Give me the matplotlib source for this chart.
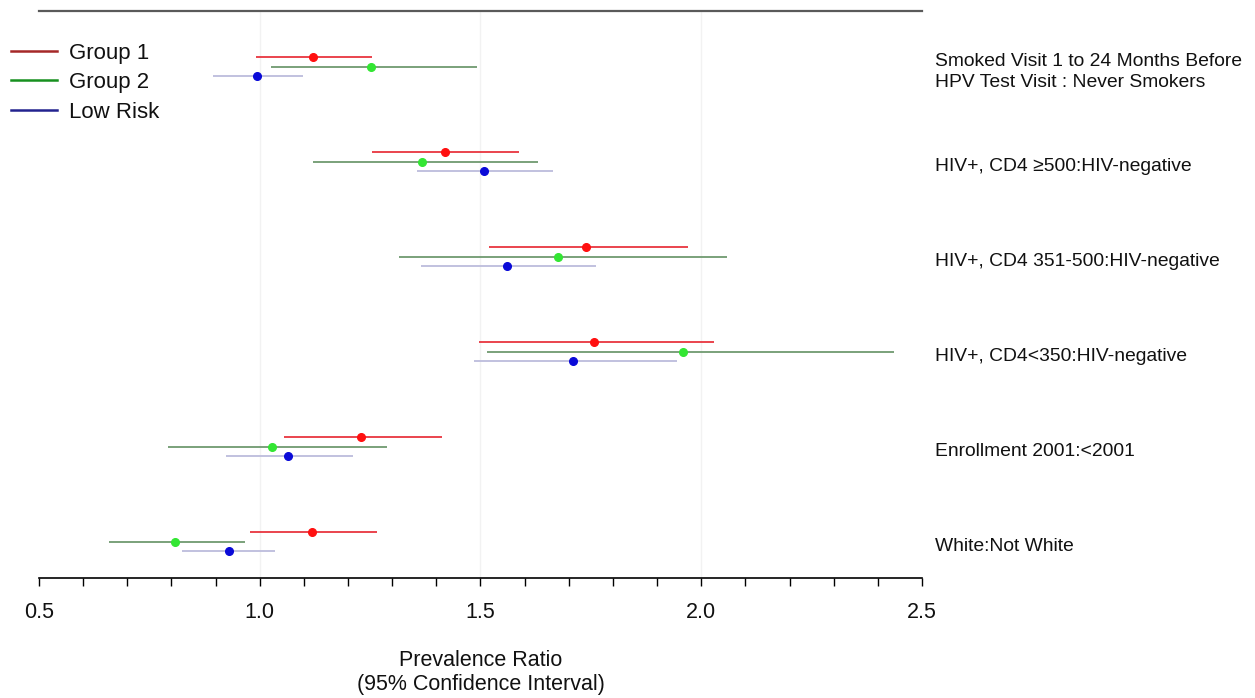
import matplotlib
matplotlib.use('Agg')
import matplotlib.pyplot as plt
from matplotlib.lines import Line2D
from matplotlib.ticker import MultipleLocator

plt.rcParams['font.family'] = ['Liberation Sans', 'DejaVu Sans']

# row labels, top to bottom
labels = [
    'Smoked Visit 1 to 24 Months Before\nHPV Test Visit : Never Smokers',
    'HIV+, CD4 \u2265500:HIV-negative',
    'HIV+, CD4 351-500:HIV-negative',
    'HIV+, CD4<350:HIV-negative',
    'Enrollment 2001:<2001',
    'White:Not White',
]

# prevalence ratio estimates and 95% CI bounds per group
g1_est = [1.121, 1.419, 1.740, 1.757, 1.230, 1.119]
g1_lo = [0.991, 1.255, 1.519, 1.497, 1.056, 0.979]
g1_hi = [1.254, 1.588, 1.969, 2.029, 1.412, 1.265]

g2_est = [1.251, 1.367, 1.675, 1.958, 1.028, 0.807]
g2_lo = [1.025, 1.120, 1.316, 1.515, 0.792, 0.659]
g2_hi = [1.492, 1.631, 2.058, 2.437, 1.288, 0.967]

lr_est = [0.993, 1.508, 1.560, 1.709, 1.064, 0.931]
lr_lo = [0.893, 1.357, 1.365, 1.486, 0.924, 0.825]
lr_hi = [1.099, 1.665, 1.762, 1.944, 1.212, 1.035]

groups = [
    ('Group 1', g1_est, g1_lo, g1_hi, 0.1, '#e8353f', '#ff1010', '#a52828'),
    ('Group 2', g2_est, g2_lo, g2_hi, 0.0, '#6f9a6f', '#33e633', '#17901f'),
    ('Low Risk', lr_est, lr_lo, lr_hi, -0.1, '#bcbcdc', '#0a0ad8', '#23238f'),
]

fig = plt.figure(figsize=(12.55, 6.98), dpi=100)
ax = fig.add_axes([39 / 1255, 120 / 698, 883 / 1255, 567 / 698])

n = len(labels)
centers = [n - 1 - i for i in range(n)]

for x in [1.0, 1.5, 2.0]:
    ax.axvline(x, color='#f2f2f2', lw=1, zorder=0)

handles = []
for name, est, lo, hi, off, lc, pc, legc in groups:
    ys = [c + off for c in centers]
    ax.hlines(ys, lo, hi, color=lc, lw=1.3, zorder=2)
    ax.plot(est, ys, 'o', color=pc, markersize=5.5, zorder=3)
    handles.append(Line2D([0], [0], color=legc, lw=1.8, label=name))

# labels sit a little below the middle (green) line
for c, lab in zip(centers, labels):
    ax.text(1.0147, c - 0.05, lab, transform=ax.get_yaxis_transform(),
            ha='left', va='center', fontsize=13.9, linespacing=1.3,
            color='#111111')

ax.set_xlim(0.5, 2.5)
ax.set_ylim(-0.379, 5.589)
ax.xaxis.set_major_locator(MultipleLocator(0.5))
ax.xaxis.set_minor_locator(MultipleLocator(0.1))
ax.xaxis.set_major_formatter(plt.FormatStrFormatter('%.1f'))
ax.tick_params(axis='x', which='both', length=6, width=1, direction='out',
               labelsize=15.5, pad=11, labelcolor='#111111')
ax.set_yticks([])

for s in ['left', 'right']:
    ax.spines[s].set_visible(False)
ax.spines['top'].set_color('#5a5a5a')
ax.spines['top'].set_linewidth(1.6)
ax.spines['bottom'].set_linewidth(1.2)

ax.set_xlabel('Prevalence Ratio\n(95% Confidence Interval)', fontsize=15.5,
              labelpad=20, linespacing=1.15, color='#111111')

fig.legend(handles=handles, loc='upper left', bbox_to_anchor=(-0.002, 0.958),
           frameon=False, fontsize=16, handlelength=2.1, handletextpad=0.5,
           labelspacing=0.38, borderaxespad=0.2, labelcolor='#111111')

fig.savefig('out.png', dpi=100, facecolor='white')
